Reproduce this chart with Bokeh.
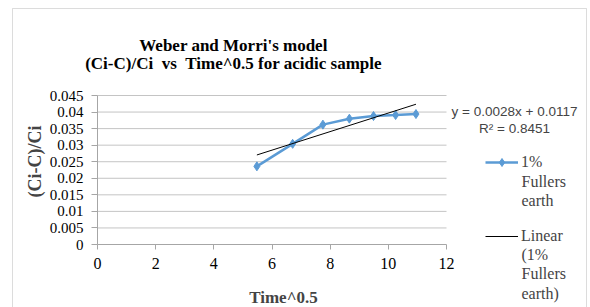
from bokeh.plotting import figure
from bokeh.models import (Label, Legend, LegendItem, BoxAnnotation, FixedTicker, Range1d, LinearAxis)
from bokeh.embed import file_html
from bokeh.resources import INLINE

# ---- data ----
time_sqrt = [5.48, 6.71, 7.75, 8.66, 9.49, 10.25, 10.95]
ratio = [0.0236, 0.0304, 0.0362, 0.0380, 0.0388, 0.0391, 0.0394]
trend_slope = 0.0028
trend_intercept = 0.0117
r_squared = 0.8451
x_ticks = [0, 2, 4, 6, 8, 10, 12]
y_ticks = [0, 0.005, 0.01, 0.015, 0.02, 0.025, 0.03, 0.035, 0.04, 0.045]
y_tick_labels = ["0", "0.005", "0.01", "0.015", "0.02", "0.025", "0.03", "0.035", "0.04", "0.045"]
title_lines = ["Weber and Morri's model",
               "(Ci-C)/Ci \u00a0vs \u00a0Time^0.5 for acidic sample"]
series_label = ["1%", "Fullers", "earth"]
trend_label = ["Linear", "(1%", "Fullers", "earth)"]

SERIF = "Liberation Serif"
SANS = "Liberation Sans"
BLUE = "#5B9BD5"
GRID = "#c4c4c4"
AXIS = "#a6a6a6"

W, H = 590, 307
# plot area in page pixels: x 0..12 -> 97..446, y 0..0.045 -> 244..95
PX0, PX1, PY0, PY1 = 97, 446, 244, 95
kx = (PX1 - PX0) / (x_ticks[-1] - x_ticks[0])
ky = (PY0 - PY1) / (y_ticks[-1] - y_ticks[0])
xr = Range1d(x_ticks[0] - PX0 / kx, x_ticks[0] + (W - PX0) / kx)
yr = Range1d(y_ticks[0] - (H - PY0) / ky, y_ticks[0] + PY0 / ky)

p = figure(width=W, height=H, output_backend="svg", toolbar_location=None,
           x_range=xr, y_range=yr, x_axis_location=None, y_axis_location=None)
p.min_border = 0
p.min_border_left = 0
p.min_border_right = 0
p.min_border_top = 0
p.min_border_bottom = 0
p.outline_line_color = None
p.background_fill_color = "white"
p.border_fill_color = "white"
p.grid.visible = False

# gridlines across the plot area
gy = y_ticks[1:]
p.segment(x0=[x_ticks[0]] * len(gy), x1=[x_ticks[-1]] * len(gy), y0=gy, y1=gy,
          line_color=GRID, line_width=1)

# axes fixed at the origin
xaxis = LinearAxis(fixed_location=y_ticks[0], bounds=(x_ticks[0], x_ticks[-1]),
                   ticker=FixedTicker(ticks=x_ticks))
yaxis = LinearAxis(fixed_location=x_ticks[0], bounds=(y_ticks[0], y_ticks[-1]),
                   ticker=FixedTicker(ticks=y_ticks))
yaxis.major_label_overrides = {t: l for t, l in zip(y_ticks, y_tick_labels)}
xaxis.major_label_overrides = {t: str(t) for t in x_ticks}
for ax in (xaxis, yaxis):
    ax.axis_line_color = AXIS
    ax.major_tick_line_color = AXIS
    ax.minor_tick_line_color = None
    ax.major_tick_in = 0
    ax.major_label_text_font = SERIF
    ax.major_label_text_color = "black"
yaxis.major_tick_out = 6
xaxis.major_tick_out = 5
yaxis.major_label_text_font_size = "15px"
xaxis.major_label_text_font_size = "16px"
yaxis.major_label_standoff = 8
xaxis.major_label_standoff = 8
p.add_layout(xaxis, "below")
p.add_layout(yaxis, "left")

# data series
ln = p.line(time_sqrt, ratio, line_color=BLUE, line_width=2.5)
sc = p.scatter(time_sqrt, ratio, marker="diamond", size=9, fill_color=BLUE, line_color=BLUE)

xt = [min(time_sqrt), max(time_sqrt)]
yt = [trend_slope * v + trend_intercept for v in xt]
tr = p.line(xt, yt, line_color="black", line_width=1)

# screen coordinates (frame == whole canvas, origin bottom-left)
def sy(py):
    return H - py

# outer chart border
p.add_layout(BoxAnnotation(left=12, right=586, top=sy(8), bottom=-30,
                           left_units="screen", right_units="screen",
                           top_units="screen", bottom_units="screen",
                           fill_alpha=0, line_color="#8c8c8c", line_width=1))

# title
for txt, base in zip(title_lines, [45, 63]):
    p.add_layout(Label(x=233, y=sy(base), x_units="screen", y_units="screen",
                       text=txt, text_font=SERIF, text_font_size="17px",
                       text_font_style="bold", text_align="center",
                       text_baseline="alphabetic", text_color="black"))

# axis titles
p.add_layout(Label(x=283, y=sy(297), x_units="screen", y_units="screen",
                   text="Time^0.5", text_font=SERIF, text_font_size="17px",
                   text_font_style="bold", text_align="center",
                   text_baseline="alphabetic"))
p.add_layout(Label(x=34, y=sy(161), x_units="screen", y_units="screen",
                   text="(Ci-C)/Ci", text_font=SERIF, text_font_size="18px",
                   text_font_style="bold", text_align="center",
                   text_baseline="middle", angle=1.5707963))

# trendline equation
p.add_layout(Label(x=514, y=sy(111), x_units="screen", y_units="screen",
                   text="y = %.4fx + %.4f" % (trend_slope, trend_intercept),
                   text_font=SANS, text_font_size="13.5px", text_align="center",
                   text_baseline="middle"))
p.add_layout(Label(x=514, y=sy(128), x_units="screen", y_units="screen",
                   text="R² = %.4f" % r_squared,
                   text_font=SANS, text_font_size="13.5px", text_align="center",
                   text_baseline="middle"))

# legends
def make_legend(label, renderers, center_y):
    lg = Legend(items=[LegendItem(label=label, renderers=renderers)],
                location=(485, sy(center_y + 10)),
                padding=0, margin=0, border_line_alpha=0, background_fill_alpha=0,
                glyph_width=33, glyph_height=20, label_height=20, label_standoff=3,
                label_text_font=SERIF, label_text_font_size="16px")
    p.add_layout(lg)

make_legend(series_label[0], [ln, sc], 161.5)
make_legend(trend_label[0], [tr], 235.5)

for txt, yy in zip(series_label[1:], [181, 200]):
    p.add_layout(Label(x=521, y=sy(yy), x_units="screen", y_units="screen",
                       text=txt, text_font=SERIF, text_font_size="16px",
                       text_align="left", text_baseline="middle"))
for txt, yy in zip(trend_label[1:], [254, 273, 293]):
    p.add_layout(Label(x=521, y=sy(yy), x_units="screen", y_units="screen",
                       text=txt, text_font=SERIF, text_font_size="16px",
                       text_align="left", text_baseline="middle"))

open("out.html", "w").write(file_html(p, INLINE))
